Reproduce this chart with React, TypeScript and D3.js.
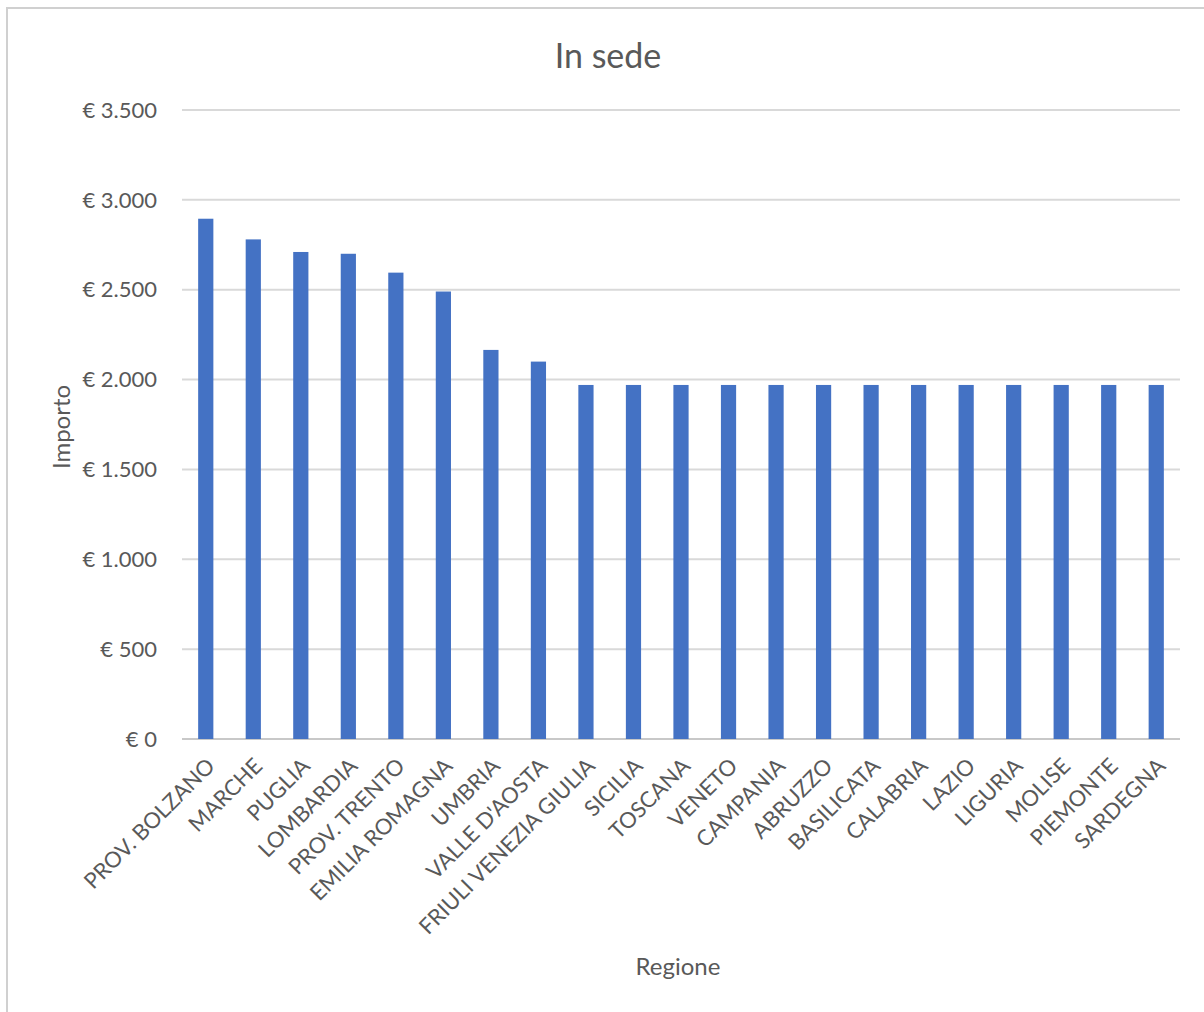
import React from "react";
import * as d3 from "d3";

const regions = [
  "PROV. BOLZANO", "MARCHE", "PUGLIA", "LOMBARDIA", "PROV. TRENTO", "EMILIA ROMAGNA",
  "UMBRIA", "VALLE D'AOSTA", "FRIULI VENEZIA GIULIA", "SICILIA", "TOSCANA", "VENETO",
  "CAMPANIA", "ABRUZZO", "BASILICATA", "CALABRIA", "LAZIO", "LIGURIA", "MOLISE",
  "PIEMONTE", "SARDEGNA",
];
const importi = [
  2895, 2780, 2710, 2700, 2595, 2490, 2165, 2100, 1970, 1970, 1970, 1970,
  1970, 1970, 1970, 1970, 1970, 1970, 1970, 1970, 1970,
];
const yTicks = [0, 500, 1000, 1500, 2000, 2500, 3000, 3500];

const W = 1204;
const H = 1012;
const plot = { left: 182, right: 1180, top: 110, bottom: 739 };
const font = "Lato, 'Noto Sans', sans-serif";
const textColor = "#595959";

const fmt = (v: number) => "€ " + d3.format(",")(v).replace(/,/g, ".");

export default function App() {
  const x = d3.scaleBand<string>().domain(regions).range([plot.left, plot.right]).paddingInner(0.68).paddingOuter(0.34);
  const y = d3.scaleLinear().domain([0, 3500]).range([plot.bottom, plot.top]);

  return (
    <svg width={W} height={H} style={{ position: "absolute", left: 0, top: 0 }}>
      <rect x={0} y={0} width={W} height={H} fill="#fff" />
      <path d={`M7,${H + 5} V8 H${W + 5}`} fill="none" stroke="#d0d0d0" strokeWidth={2} />
      <text x={608} y={68} textAnchor="middle" fontFamily={font} fontSize={34} fill={textColor}>In sede</text>

      {yTicks.map((t) => (
        <g key={t}>
          <line x1={plot.left} x2={plot.right} y1={y(t)} y2={y(t)} stroke={t === 0 ? "#c8c8c8" : "#d9d9d9"} strokeWidth={2} />
          <text x={157} y={y(t)} dy="0.35em" textAnchor="end" fontFamily={font} fontSize={22} fill={textColor}>{fmt(t)}</text>
        </g>
      ))}

      {regions.map((r, i) => (
        <rect key={r} x={x(r)} y={y(importi[i])} width={x.bandwidth()} height={y(0) - y(importi[i])} fill="#4472C4" />
      ))}

      {regions.map((r) => {
        const cx = (x(r) as number) + x.bandwidth() / 2;
        return (
          <text key={r} transform={`translate(${cx + 5},${plot.bottom + 23}) rotate(-45)`} textAnchor="end" dy="0.35em"
            fontFamily={font} fontSize={22} fill={textColor}>{r}</text>
        );
      })}

      <text transform={`translate(62,427) rotate(-90)`} textAnchor="middle" dy="0.35em" fontFamily={font} fontSize={24} fill={textColor}>Importo</text>
      <text x={678} y={967} textAnchor="middle" dy="0.35em" fontFamily={font} fontSize={24} fill={textColor}>Regione</text>
    </svg>
  );
}
